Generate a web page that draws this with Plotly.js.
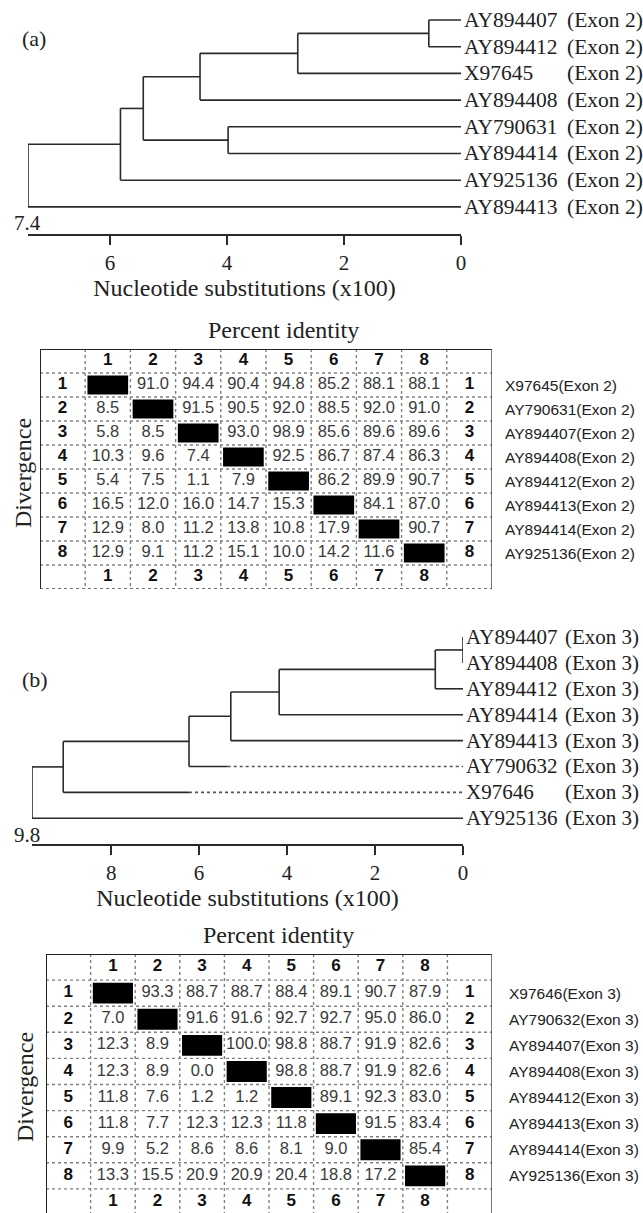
<!DOCTYPE html>
<html><head><meta charset="utf-8">
<script src="https://cdn.plot.ly/plotly-3.0.1.min.js"></script>
<style>html,body{margin:0;padding:0;background:#fff}</style>
</head><body><div id="chart" style="width:643px;height:1213px"></div>
<script>
// ---------- Tree (a) : Exon 2 ----------
const leavesA = ["AY894407","AY894412","X97645","AY894408","AY790631","AY894414","AY925136","AY894413"];
const exonA = "(Exon 2)";
// merge k creates node 8+k
const mergeLeftA   = [0, 8, 9, 4, 10, 12, 13];
const mergeRightA  = [1, 2, 3, 5, 11, 6, 7];
const mergeHeightA = [0.55, 2.79, 4.46, 3.98, 5.43, 5.82, 7.4];
const ticksA = [6, 4, 2, 0];
const maxA = 7.4;

// ---------- Tree (b) : Exon 3 ----------
const leavesB = ["AY894407","AY894408","AY894412","AY894414","AY894413","AY790632","X97646","AY925136"];
const exonB = "(Exon 3)";
const mergeLeftB   = [0, 8, 9, 10, 11, 12, 13];
const mergeRightB  = [1, 2, 3, 4, 5, 6, 7];
const mergeHeightB = [0.0, 0.63, 4.18, 5.28, 6.23, 9.09, 9.8];
const dottedFromB  = [null, null, null, null, null, 5.35, 6.23, null];
const ticksB = [8, 6, 4, 2, 0];
const maxB = 9.8;

// ---------- Table (a) ----------
const seqA = ["X97645(Exon 2)","AY790631(Exon 2)","AY894407(Exon 2)","AY894408(Exon 2)","AY894412(Exon 2)","AY894413(Exon 2)","AY894414(Exon 2)","AY925136(Exon 2)"];
const tabA = [
  [null, 91.0, 94.4, 90.4, 94.8, 85.2, 88.1, 88.1],
  [8.5, null, 91.5, 90.5, 92.0, 88.5, 92.0, 91.0],
  [5.8, 8.5, null, 93.0, 98.9, 85.6, 89.6, 89.6],
  [10.3, 9.6, 7.4, null, 92.5, 86.7, 87.4, 86.3],
  [5.4, 7.5, 1.1, 7.9, null, 86.2, 89.9, 90.7],
  [16.5, 12.0, 16.0, 14.7, 15.3, null, 84.1, 87.0],
  [12.9, 8.0, 11.2, 13.8, 10.8, 17.9, null, 90.7],
  [12.9, 9.1, 11.2, 15.1, 10.0, 14.2, 11.6, null]
];
// ---------- Table (b) ----------
const seqB = ["X97646(Exon 3)","AY790632(Exon 3)","AY894407(Exon 3)","AY894408(Exon 3)","AY894412(Exon 3)","AY894413(Exon 3)","AY894414(Exon 3)","AY925136(Exon 3)"];
const tabB = [
  [null, 93.3, 88.7, 88.7, 88.4, 89.1, 90.7, 87.9],
  [7.0, null, 91.6, 91.6, 92.7, 92.7, 95.0, 86.0],
  [12.3, 8.9, null, 100.0, 98.8, 88.7, 91.9, 82.6],
  [12.3, 8.9, 0.0, null, 98.8, 88.7, 91.9, 82.6],
  [11.8, 7.6, 1.2, 1.2, null, 89.1, 92.3, 83.0],
  [11.8, 7.7, 12.3, 12.3, 11.8, null, 91.5, 83.4],
  [9.9, 5.2, 8.6, 8.6, 8.1, 9.0, null, 85.4],
  [13.3, 15.5, 20.9, 20.9, 20.4, 18.8, 17.2, null]
];

// ---------- helpers ----------
const W = 643, H = 1213;
const fx = p => p / W, fy = p => 1 - p / H;
const SERIF = "'Liberation Serif','Times New Roman',serif";
const SANS = "'Liberation Sans',Arial,sans-serif";
const LINE = '#2a2a2a';

function dendro(n, L, R, Hh, dotted) {
  const pos = {};
  for (let i = 0; i < n; i++) pos[i] = {x: 0, y: i};
  const sx = [], sy = [], dx = [], dy = [];
  L.forEach((a, k) => {
    const b = R[k], h = Hh[k];
    [a, b].forEach(id => {
      const p = pos[id];
      if (id < n && dotted && dotted[id] != null) {
        sx.push(h, dotted[id], null); sy.push(p.y, p.y, null);
        dx.push(dotted[id], p.x, null); dy.push(p.y, p.y, null);
      } else {
        sx.push(h, p.x, null); sy.push(p.y, p.y, null);
      }
    });
    sx.push(h, h, null); sy.push(pos[a].y, pos[b].y, null);
    pos[n + k] = {x: h, y: (pos[a].y + pos[b].y) / 2};
  });
  const root = pos[n + L.length - 1];
  sx.push(root.x, root.x + 0.13, null); sy.push(root.y, root.y, null);
  return {sx, sy, dx, dy};
}

const traces = [];
const shapes = [];
const annotations = [];

function addTree(leaves, exon, L, R, Hh, dotted, xa, ya, fsize, exShift) {
  const d = dendro(leaves.length, L, R, Hh, dotted);
  traces.push({type: 'scatter', mode: 'lines', x: d.sx, y: d.sy, xaxis: xa, yaxis: ya,
    line: {color: LINE, width: 1.6}, hoverinfo: 'skip', cliponaxis: false});
  if (d.dx.length) traces.push({type: 'scatter', mode: 'lines', x: d.dx, y: d.dy, xaxis: xa, yaxis: ya,
    line: {color: '#555', width: 1.6, dash: 'dot'}, hoverinfo: 'skip', cliponaxis: false});
  leaves.forEach((nm, i) => {
    annotations.push({xref: xa, yref: ya, x: 0, y: i, text: nm, showarrow: false, xanchor: 'left', yanchor: 'middle',
      xshift: 1, font: {family: SERIF, size: fsize, color: '#222'}});
    annotations.push({xref: xa, yref: ya, x: 0, y: i, text: exon, showarrow: false, xanchor: 'left', yanchor: 'middle',
      xshift: exShift, font: {family: SERIF, size: fsize, color: '#222'}});
  });
}
addTree(leavesA, exonA, mergeLeftA, mergeRightA, mergeHeightA, null, 'x', 'y', 21.5, 104);
addTree(leavesB, exonB, mergeLeftB, mergeRightB, mergeHeightB, dottedFromB, 'x2', 'y2', 21, 100);

function addTable(tab, seq, xa, ya, labelX) {
  const n = tab.length;
  const xr = xa, yr = ya;
  for (let k = 1; k <= n + 1; k++)
    shapes.push({type: 'line', xref: xr, yref: yr, x0: k - 0.5, x1: k - 0.5, y0: -0.5, y1: n + 1.5,
      line: {color: '#808080', width: 1.4, dash: 'dot'}});
  for (let r = 1; r <= n + 1; r++)
    shapes.push({type: 'line', xref: xr, yref: yr, x0: -0.5, x1: n + 1.5, y0: r - 0.5, y1: r - 0.5,
      line: {color: '#808080', width: 1.4, dash: 'dot'}});
  shapes.push({type: 'line', xref: xr, yref: yr, x0: -0.5, x1: -0.5, y0: -0.5, y1: n + 1.5, line: {color: '#222', width: 2}});
  shapes.push({type: 'line', xref: xr, yref: yr, x0: -0.5, x1: n + 1.5, y0: -0.5, y1: -0.5, line: {color: '#222', width: 2}});
  shapes.push({type: 'line', xref: xr, yref: yr, x0: n + 1.5, x1: n + 1.5, y0: -0.5, y1: n + 1.5, line: {color: '#555', width: 1.6}});
  shapes.push({type: 'line', xref: xr, yref: yr, x0: -0.5, x1: n + 1.5, y0: n + 1.5, y1: n + 1.5, line: {color: '#444', width: 1.6, dash: 'dot'}});
  for (let i = 1; i <= n; i++)
    shapes.push({type: 'rect', xref: xr, yref: yr, x0: i - 0.45, x1: i + 0.45, y0: i - 0.4, y1: i + 0.4,
      fillcolor: '#000', line: {width: 0}});
  const vx = [], vy = [], vt = [];
  tab.forEach((row, r) => row.forEach((v, c) => {
    if (v != null) { vx.push(c + 1); vy.push(r + 1); vt.push(v.toFixed(1)); }
  }));
  traces.push({type: 'scatter', mode: 'text', x: vx, y: vy, text: vt, xaxis: xa, yaxis: ya,
    textfont: {family: SANS, size: 16.5, color: '#3a3a3a'}, hoverinfo: 'skip', cliponaxis: false});
  const hx = [], hy = [], ht = [];
  for (let i = 1; i <= n; i++) {
    hx.push(i, i, 0, n + 1); hy.push(0, n + 1, i, i);
    ht.push('<b>' + i + '</b>', '<b>' + i + '</b>', '<b>' + i + '</b>', '<b>' + i + '</b>');
  }
  traces.push({type: 'scatter', mode: 'text', x: hx, y: hy, text: ht, xaxis: xa, yaxis: ya,
    textfont: {family: SANS, size: 17, color: '#111'}, hoverinfo: 'skip', cliponaxis: false});
  seq.forEach((s, i) => annotations.push({xref: 'paper', yref: ya, x: labelX, y: i + 1, text: s, showarrow: false,
    xanchor: 'left', yanchor: 'middle', font: {family: SANS, size: 15.5, color: '#222'}}));
}
addTable(tabA, seqA, 'x3', 'y3', fx(503));
addTable(tabB, seqB, 'x4', 'y4', fx(507));

const txt = (x, y, t, size, extra) => annotations.push(Object.assign({xref: 'paper', yref: 'paper', x: fx(x), y: fy(y), text: t,
  showarrow: false, xanchor: 'center', yanchor: 'middle', font: {family: SERIF, size: size, color: '#222'}}, extra || {}));
txt(34, 39, '(a)', 22);
txt(35, 679, '(b)', 22);
txt(12, 223, String(maxA), 21, {xanchor: 'left'});
txt(12, 835, String(maxB), 21, {xanchor: 'left'});
txt(283, 330, 'Percent identity', 24);
txt(278, 935, 'Percent identity', 24);
txt(23, 473, 'Divergence', 24, {textangle: -90});
txt(25, 1087, 'Divergence', 24, {textangle: -90});

const treeAxis = (dom, rng, ticks, ya) => ({
  domain: dom, range: rng, anchor: ya, showline: true, linecolor: LINE, linewidth: 1.6,
  ticks: 'outside', ticklen: 9, tickwidth: 1.6, tickcolor: LINE, tickvals: ticks, ticktext: ticks.map(String),
  tickfont: {family: SERIF, size: 21, color: '#222'}, showgrid: false, zeroline: false, fixedrange: true,
  title: {text: 'Nucleotide substitutions (x100)', font: {family: SERIF, size: 24, color: '#222'}, standoff: 4}
});
const hidden = (dom, rng, anchor) => ({domain: dom, range: rng, anchor: anchor, visible: false, fixedrange: true, showgrid: false, zeroline: false});

const layout = {
  width: W, height: H, margin: {l: 0, r: 0, t: 0, b: 0}, paper_bgcolor: '#fff', plot_bgcolor: 'rgba(0,0,0,0)',
  showlegend: false, hovermode: false,
  xaxis: treeAxis([fx(28), fx(461)], [maxA, 0], ticksA, 'y'),
  yaxis: hidden([fy(234), fy(5)], [(234 - 20) / 26.7, (5 - 20) / 26.7], 'x'),
  xaxis2: treeAxis([fx(32), fx(463)], [maxB, 0], ticksB, 'y2'),
  yaxis2: hidden([fy(844), fy(615)], [(844 - 637) / 25.9, (615 - 637) / 25.9], 'x2'),
  xaxis3: hidden([fx(40), fx(492)], [-0.5, 9.5], 'y3'),
  yaxis3: hidden([fy(589), fy(349)], [9.5, -0.5], 'x3'),
  xaxis4: hidden([fx(46), fx(492)], [-0.5, 9.5], 'y4'),
  yaxis4: hidden([0, fy(954)], [(1213 - 954) / 26.1 - 0.5, -0.5], 'x4'),
  shapes: shapes, annotations: annotations
};
Plotly.newPlot('chart', traces, layout, {staticPlot: true, displayModeBar: false});
</script></body></html>
